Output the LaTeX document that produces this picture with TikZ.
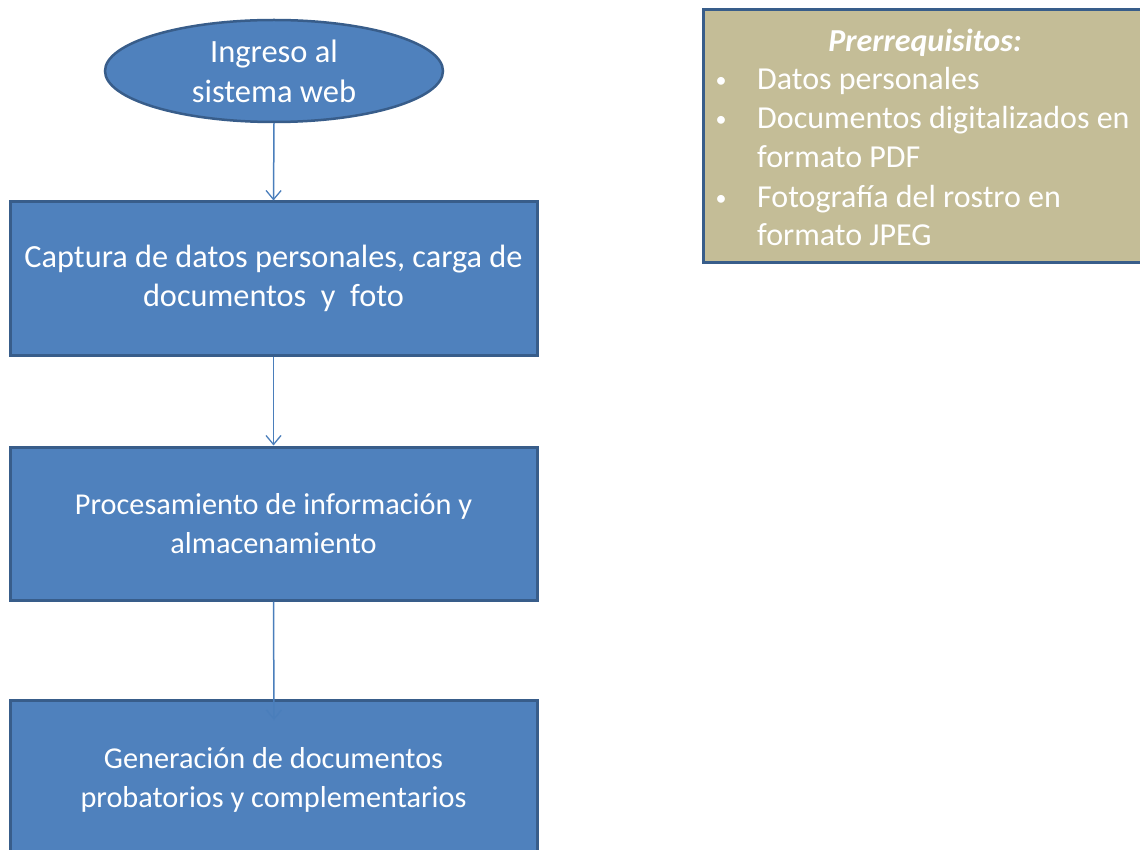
\documentclass[tikz,border=0pt]{standalone}
\usepackage{fontspec}
\setmainfont{Carlito}
\usetikzlibrary{shapes.geometric,arrows.meta}
\definecolor{boxblue}{HTML}{4F81BD}
\definecolor{boxedge}{HTML}{385D8A}
\definecolor{arrowblue}{HTML}{4A7EBB}
\definecolor{tan}{HTML}{C4BD97}
\tikzset{
  stepbox/.style={rectangle, draw=boxedge, fill=boxblue, line width=3pt, text=white,
    minimum width=527pt, minimum height=153pt, inner sep=0pt, align=center,
    font=\fontsize{32.3}{38.5}\selectfont},
  smallfont/.style={font=\fontsize{30.3}{38.5}\selectfont},
  plaintext/.style={text=white, inner sep=0pt, align=center,
    font=\fontsize{30.3}{38.5}\selectfont},
  startell/.style={ellipse, draw=boxedge, fill=boxblue, line width=2.5pt, text=white,
    minimum width=338pt, minimum height=102pt, inner sep=0pt, align=center,
    font=\fontsize{32.5}{40}\selectfont},
  flow/.style={draw=arrowblue, line width=1.5pt, -{Straight Barb[length=9pt,width=15pt,line width=1.3pt]}},
  pretext/.style={text=white, inner sep=0pt, anchor=base west, font=\fontsize{32}{38}\selectfont},
  bulletmark/.style={text=white, inner sep=0pt, anchor=base, font=\fontsize{22}{26}\selectfont},
}
\begin{document}
\begin{tikzpicture}[x=1pt,y=-1pt]
\useasboundingbox (0,0) rectangle (1140,850);
\node[startell] (ingreso) at (274,71) {Ingreso al\\sistema web};
\node[stepbox] (captura) at (273.5,278.5) {Captura de datos personales, carga de\\documentos\ \ y\ \ foto};
\node[stepbox, smallfont] (proc) at (273.5,523.5) {Procesamiento de información y\\almacenamiento};
\path[draw=boxedge, fill=boxblue, line width=3pt] (10,700) rectangle (537,870);
\node[plaintext] (gen) at (273.5,780) {Generación de documentos\\probatorios y complementarios};
\coordinate (genin) at (274,720);
\draw[flow] (ingreso.south) -- (captura.north);
\draw[flow] (captura.south) -- (proc.north);
\draw[flow] (proc.south) -- (genin);
% prerequisites
\path[draw=boxedge, fill=tan, line width=3pt] (703,10) rectangle (1160,263);
\node[text=white, inner sep=0pt, anchor=base, font=\fontsize{32}{38}\selectfont\bfseries\itshape] (pretitle) at (925,52) {Prerrequisitos:};
\node[bulletmark] (b1) at (721,88) {•};
\node[pretext] (t1) at (757,90) {Datos personales};
\node[bulletmark] (b2) at (721,127) {•};
\node[pretext] (t2) at (757,129) {Documentos digitalizados en};
\node[pretext] (t2b) at (757,168) {formato PDF};
\node[bulletmark] (b3) at (721,206) {•};
\node[pretext] (t3) at (757,208) {Fotografía del rostro en};
\node[pretext] (t3b) at (757,246) {formato JPEG};
\end{tikzpicture}
\end{document}
